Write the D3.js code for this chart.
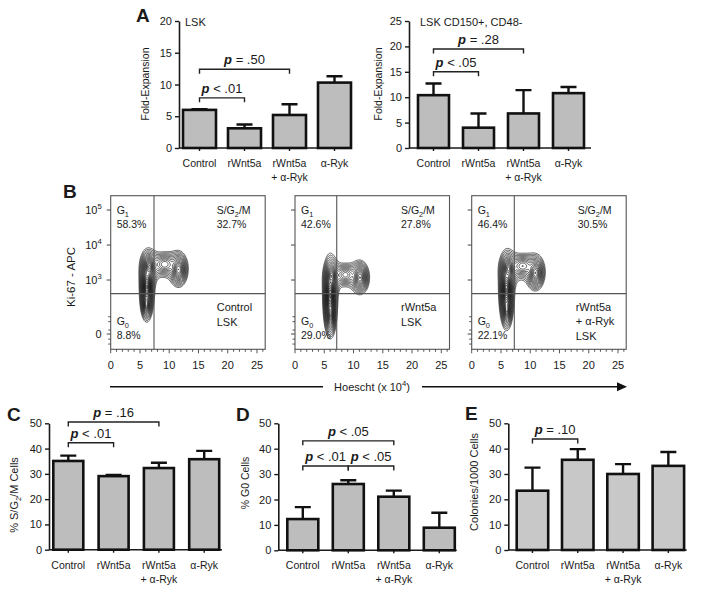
<!DOCTYPE html>
<html><head><meta charset="utf-8">
<script src="https://cdn.jsdelivr.net/npm/d3@7"></script>
<style>
body{margin:0;background:#fff}
text{font-family:"Liberation Sans",Arial,Helvetica,sans-serif;fill:#1a1a1a}
</style>
</head><body>
<svg id="chart" width="701" height="593"></svg>
<script>
// ---------------- DATA ----------------
const categories = [["Control"], ["rWnt5a"], ["rWnt5a", "+ α-Ryk"], ["α-Ryk"]];

// Panel A (fold-expansion)
const lskFold = [6.0, 3.1, 5.2, 10.3];
const lskFoldErr = [0.1, 0.6, 1.7, 1.0];
const hscFold = [10.4, 4.0, 6.8, 10.8];
const hscFoldErr = [2.3, 2.8, 4.6, 1.2];
// Panel C, D, E
const sg2mPct = [35.1, 29.1, 32.3, 35.8];
const sg2mErr = [2.1, 0.5, 2.1, 3.3];
const g0Pct = [12.3, 26.1, 21.1, 8.9];
const g0Err = [4.7, 1.5, 2.4, 5.9];
const colonies = [23.4, 35.6, 30.0, 33.2];
const coloniesErr = [9.1, 4.2, 3.9, 5.5];

// significance brackets: [from, to, bracket height (data units), relation, p]
const lskBrackets = [[0, 1, 7.9, "<", ".01"], [0, 2, 12.4, "=", " .50"]];
const hscBrackets = [[0, 1, 15.0, "<", ".05"], [0, 2, 19.5, "=", ".28"]];
const sg2mBrackets = [[0, 1, 42.3, "<", ".01"], [0, 2, 50.5, "=", ".16"]];
const g0Brackets = [[0, 1, 33.2, "<", ".01"], [1, 2, 33.2, "<", ".05"], [0, 2, 43.1, "<", ".05"]];
const colBrackets = [[0, 1, 43.8, "=", ".10"]];

// Panel B (flow cytometry)
const flowConditions = [["Control", "LSK"], ["rWnt5a", "LSK"], ["rWnt5a", "+ α-Ryk", "LSK"]];
const g1Share = ["58.3%", "42.6%", "46.4%"];
const sg2mShare = ["32.7%", "27.8%", "30.5%"];
const g0Share = ["8.8%", "29.0%", "22.1%"];
const hoechstGate = [7.4, 7.13, 7.28];          // x 10^4
const ki67Gate = 2.61;                           // log10
const hoechstTicks = [0, 5, 10, 15, 20, 25];
const ki67Ticks = [5, 4, 3];                     // log10 decades
const ki67Zero = 1.457;                          // display position of "0"
const ki67Minor = [1.95, 1.81, 1.57, 1.31, 1.17];
// event populations: [hoechst, log10 Ki-67, sdH, sdK, weight]
const popsControl = [[6.2, 2.8, 0.34, 0.24, 1.0], [6.6, 3.38, 0.45, 0.14, 0.5], [6.1, 2.3, 0.28, 0.14, 0.3], [9.2, 3.45, 1.15, 0.17, 0.13], [11.6, 3.3, 0.6, 0.19, 0.32]];
const popsWnt5a = [[6.0, 2.55, 0.33, 0.3, 1.0], [6.1, 2.0, 0.28, 0.18, 0.3], [6.3, 3.12, 0.4, 0.14, 0.4], [8.6, 3.15, 1.05, 0.16, 0.12], [11.1, 3.07, 0.6, 0.18, 0.32]];
const popsWnt5aRyk = [[5.95, 2.7, 0.35, 0.27, 1.0], [6.0, 2.15, 0.28, 0.17, 0.3], [6.3, 3.32, 0.45, 0.14, 0.5], [8.7, 3.4, 1.15, 0.17, 0.13], [10.9, 3.2, 0.6, 0.19, 0.32]];

// ---------------- DRAWING ----------------
const svg = d3.select("#chart");
svg.append("rect").attr("width", 701).attr("height", 593).attr("fill", "#fff");

function rich(g, x, y, segs, size, anchor) {
  const t = g.append("text").attr("x", x).attr("y", y).attr("font-size", size)
    .attr("text-anchor", anchor || "start");
  let shift = 0;
  segs.forEach(s => {
    const ts = t.append("tspan").text(s.t);
    let want = s.sub ? 2.5 : s.sup ? -5 : 0;
    if (want !== shift) { ts.attr("dy", want - shift); shift = want; }
    if (s.sub || s.sup) ts.attr("font-size", size * 0.7);
    if (s.b) ts.attr("font-weight", "bold");
    if (s.i) ts.attr("font-style", "italic");
  });
  return t;
}

function letter(x, y, s) {
  svg.append("text").attr("x", x).attr("y", y).attr("font-size", 19)
    .attr("font-weight", "bold").text(s);
}

function barChart(o) {
  const g = svg.append("g");
  const y = d3.scaleLinear().domain([0, o.max]).range([o.y0, o.yTop]);
  const gapFrac = 1 - o.bw / o.pitch;
  const start = o.barStart - (o.pitch - o.bw) / 2;
  const x = d3.scaleBand().domain(d3.range(o.vals.length))
    .range([start, start + o.vals.length * o.pitch])
    .paddingInner(gapFrac).paddingOuter(gapFrac / 2);

  const ax = g.append("g").attr("transform", `translate(${o.axisX},0)`)
    .call(d3.axisLeft(y).tickValues(d3.range(0, o.max + 0.001, o.tickStep))
      .tickSize(4).tickSizeOuter(0).tickPadding(3));
  ax.select(".domain").attr("stroke", "#1a1a1a").attr("stroke-width", 1.6);
  ax.selectAll(".tick line").attr("stroke", "#1a1a1a").attr("stroke-width", 1.4);
  ax.selectAll(".tick text").attr("font-size", 11).attr("font-family", "Liberation Sans, Arial, sans-serif").attr("fill", "#1a1a1a");

  g.append("line").attr("x1", o.axisX).attr("x2", o.axisEnd).attr("y1", o.y0).attr("y2", o.y0)
    .attr("stroke", "#1a1a1a").attr("stroke-width", 1.6);
  g.selectAll(".xt").data(o.vals).join("line")
    .attr("x1", (d, i) => x(i) + x.bandwidth() / 2).attr("x2", (d, i) => x(i) + x.bandwidth() / 2)
    .attr("y1", o.y0).attr("y2", o.y0 + 3).attr("stroke", "#1a1a1a").attr("stroke-width", 1.4);

  g.selectAll(".eb").data(o.vals).join("path")
    .attr("d", (d, i) => {
      const cx = x(i) + x.bandwidth() / 2, yt = y(d + o.err[i]);
      return `M${cx},${y(d)}V${yt}M${cx - 8},${yt}H${cx + 8}`;
    })
    .attr("stroke", "#111").attr("stroke-width", 2.4).attr("fill", "none");

  g.selectAll(".bar").data(o.vals).join("rect")
    .attr("x", (d, i) => x(i)).attr("width", x.bandwidth())
    .attr("y", d => y(d)).attr("height", d => o.y0 - y(d))
    .attr("fill", o.fill).attr("stroke", "#111").attr("stroke-width", 2.6);

  categories.forEach((lines, i) => {
    const t = g.append("text").attr("x", x(i) + x.bandwidth() / 2).attr("y", o.labY)
      .attr("text-anchor", "middle").attr("font-size", 10.5);
    lines.forEach((l, k) => t.append("tspan").attr("x", x(i) + x.bandwidth() / 2).attr("dy", k ? 13.5 : 0).text(l));
  });

  o.br.forEach(([a, b, h, rel, p]) => {
    const x1 = x(a) + x.bandwidth() / 2, x2 = x(b) + x.bandwidth() / 2, yb = y(h);
    g.append("path").attr("d", `M${x1},${yb + 4.5}V${yb}H${x2}V${yb + 4.5}`)
      .attr("fill", "none").attr("stroke", "#222").attr("stroke-width", 1.4);
    rich(g, (x1 + x2) / 2, yb - 5, [{t: "p", b: true, i: true}, {t: " " + rel + " " + p}], 13, "middle");
  });

  const tt = g.append("text").attr("transform", `translate(${o.titleX},${o.titleY}) rotate(-90)`)
    .attr("text-anchor", "middle").attr("font-size", o.titleSize || 10.5);
  o.title.forEach(s => {
    const ts = tt.append("tspan").text(s.t);
    if (s.sub) ts.attr("font-size", 7.5).attr("dy", 2.5);
    if (s.after) ts.attr("dy", -2.5);
  });
  if (o.sub) g.append("text").attr("x", o.subX).attr("y", o.subY).attr("font-size", 11).text(o.sub);
}

barChart({vals: lskFold, err: lskFoldErr, br: lskBrackets, max: 20, tickStep: 5, axisX: 179, y0: 148, yTop: 21,
  barStart: 183, pitch: 45, bw: 33, axisEnd: 352, labY: 167, fill: "#bdbdbd",
  title: [{t: "Fold-Expansion"}], titleX: 149, titleY: 84, sub: "LSK", subX: 185, subY: 26});
barChart({vals: hscFold, err: hscFoldErr, br: hscBrackets, max: 25, tickStep: 5, axisX: 409, y0: 148, yTop: 21,
  barStart: 418, pitch: 45, bw: 31, axisEnd: 591, labY: 167, fill: "#bdbdbd",
  title: [{t: "Fold-Expansion"}], titleX: 382, titleY: 84, sub: "LSK CD150+, CD48-", subX: 420, subY: 26});
barChart({vals: sg2mPct, err: sg2mErr, br: sg2mBrackets, max: 50, tickStep: 10, axisX: 49, y0: 549.7, yTop: 423.3,
  barStart: 53.3, pitch: 45.3, bw: 30, axisEnd: 222, labY: 569, fill: "#bdbdbd",
  title: [{t: "% S/G"}, {t: "2", sub: true}, {t: "/M Cells", after: true}], titleX: 18, titleY: 495, titleSize: 11});
barChart({vals: g0Pct, err: g0Err, br: g0Brackets, max: 50, tickStep: 10, axisX: 278.3, y0: 550.3, yTop: 423.3,
  barStart: 287.3, pitch: 45.5, bw: 31, axisEnd: 456.7, labY: 569, fill: "#bdbdbd",
  title: [{t: "% G0 Cells"}], titleX: 249, titleY: 483, titleSize: 10.5});
barChart({vals: colonies, err: coloniesErr, br: colBrackets, max: 50, tickStep: 10, axisX: 508.3, y0: 550, yTop: 423.3,
  barStart: 516.7, pitch: 45.3, bw: 31.5, axisEnd: 686.7, labY: 569, fill: "#c8c8c8",
  title: [{t: "Colonies/1000 Cells"}], titleX: 478, titleY: 482, titleSize: 11});

letter(136, 22, "A");
letter(63, 198, "B");
letter(7, 421, "C");
letter(236, 421, "D");
letter(465, 420, "E");

// ---------- Panel B: flow contour plots ----------
const flowLefts = [110.7, 295, 471.7];
const flowW = 154.5, flowTop = 195.7, flowBottom = 349.3;
const flowPops = [popsControl, popsWnt5a, popsWnt5aRyk];

flowPops.forEach((pops, k) => {
  const left = flowLefts[k];
  const g = svg.append("g");
  const x = d3.scaleLinear().domain([0, 26.4]).range([left, left + flowW]);
  const y = d3.scaleLinear().domain([1.02, 5.41]).range([flowBottom, flowTop]);
  const n = Math.round(flowW), m = Math.round(flowBottom - flowTop);
  const vals = new Float64Array(n * m);
  for (let j = 0; j < m; j++) for (let i = 0; i < n; i++) {
    const hx = x.invert(left + i + 0.5), ky = y.invert(flowTop + j + 0.5);
    let s = 0;
    pops.forEach(([cx, cy, sx, sy, w]) => {
      const r2 = ((hx - cx) / sx) ** 2 + ((ky - cy) / sy) ** 2;
      s += w / Math.pow(1 + r2 / 2, 2);   // heavy-tailed kernel
    });
    vals[j * n + i] = s;
  }
  const mx = d3.max(vals);
  const levels = d3.range(20).map(t => mx * 0.016 * Math.pow(0.95 / 0.016, t / 19));
  const cs = d3.contours().size([n, m]).thresholds(levels)(vals);
  g.append("g").attr("transform", `translate(${left},${flowTop})`)
    .selectAll("path").data(cs).join("path").attr("d", d3.geoPath())
    .attr("fill", "none").attr("stroke", "#111").attr("stroke-width", 0.65);

  g.append("line").attr("x1", x(hoechstGate[k])).attr("x2", x(hoechstGate[k]))
    .attr("y1", flowTop).attr("y2", flowBottom).attr("stroke", "#555").attr("stroke-width", 1.1);
  g.append("line").attr("x1", left).attr("x2", left + flowW).attr("y1", y(ki67Gate)).attr("y2", y(ki67Gate))
    .attr("stroke", "#555").attr("stroke-width", 1.1);
  g.append("rect").attr("x", left).attr("y", flowTop).attr("width", flowW).attr("height", flowBottom - flowTop)
    .attr("fill", "none").attr("stroke", "#555").attr("stroke-width", 1.1);

  d3.range(0, 27).forEach(v => {
    const major = v % 5 === 0;
    g.append("line").attr("x1", x(v)).attr("x2", x(v)).attr("y1", flowBottom).attr("y2", flowBottom + (major ? 4 : 2.5))
      .attr("stroke", "#444").attr("stroke-width", 0.9);
  });
  hoechstTicks.forEach(v => g.append("text").attr("x", x(v)).attr("y", 369).attr("text-anchor", "middle")
    .attr("font-size", 11).text(v));
  ki67Ticks.concat([ki67Zero]).forEach(v => g.append("line").attr("x1", left - 4).attr("x2", left)
    .attr("y1", y(v)).attr("y2", y(v)).attr("stroke", "#444").attr("stroke-width", 1));
  ki67Minor.forEach(v => g.append("line").attr("x1", left - 2.5).attr("x2", left)
    .attr("y1", y(v)).attr("y2", y(v)).attr("stroke", "#444").attr("stroke-width", 0.9));
  if (k === 0) {
    ki67Ticks.forEach(v => rich(g, left - 9, y(v) + 4, [{t: "10"}, {t: String(v), sup: true}], 11, "end"));
    g.append("text").attr("x", left - 9).attr("y", y(ki67Zero) + 4).attr("text-anchor", "end").attr("font-size", 11).text("0");
  }

  rich(g, left + 6, 214, [{t: "G"}, {t: "1", sub: true}], 10.5);
  g.append("text").attr("x", left + 6).attr("y", 228).attr("font-size", 10.5).text(g1Share[k]);
  rich(g, left + 106, 214, [{t: "S/G"}, {t: "2", sub: true}, {t: "/M"}], 10.5);
  g.append("text").attr("x", left + 106).attr("y", 228).attr("font-size", 10.5).text(sg2mShare[k]);
  rich(g, left + 6, 325, [{t: "G"}, {t: "0", sub: true}], 10.5);
  g.append("text").attr("x", left + 6).attr("y", 339).attr("font-size", 10.5).text(g0Share[k]);
  const cond = flowConditions[k];
  const base = cond.length === 2 ? [311, 326] : [311, 325, 339.5];
  cond.forEach((s, q) => g.append("text").attr("x", left + (cond.length === 3 ? 104 : 106)).attr("y", base[q])
    .attr("font-size", 11).text(s));
});

svg.append("text").attr("transform", "translate(75,277) rotate(-90)").attr("text-anchor", "middle")
  .attr("font-size", 11.5).text("Ki-67 - APC");

svg.append("line").attr("x1", 110).attr("x2", 323).attr("y1", 386.7).attr("y2", 386.7)
  .attr("stroke", "#111").attr("stroke-width", 1.5);
svg.append("line").attr("x1", 422).attr("x2", 620).attr("y1", 386.7).attr("y2", 386.7)
  .attr("stroke", "#111").attr("stroke-width", 1.5);
svg.append("path").attr("d", "M617,382.2L627,386.7L617,391.2Z").attr("fill", "#111");
rich(svg, 372, 390.5, [{t: "Hoescht (x 10"}, {t: "4", sup: true}, {t: ")"}], 11, "middle");
</script>
</body></html>
